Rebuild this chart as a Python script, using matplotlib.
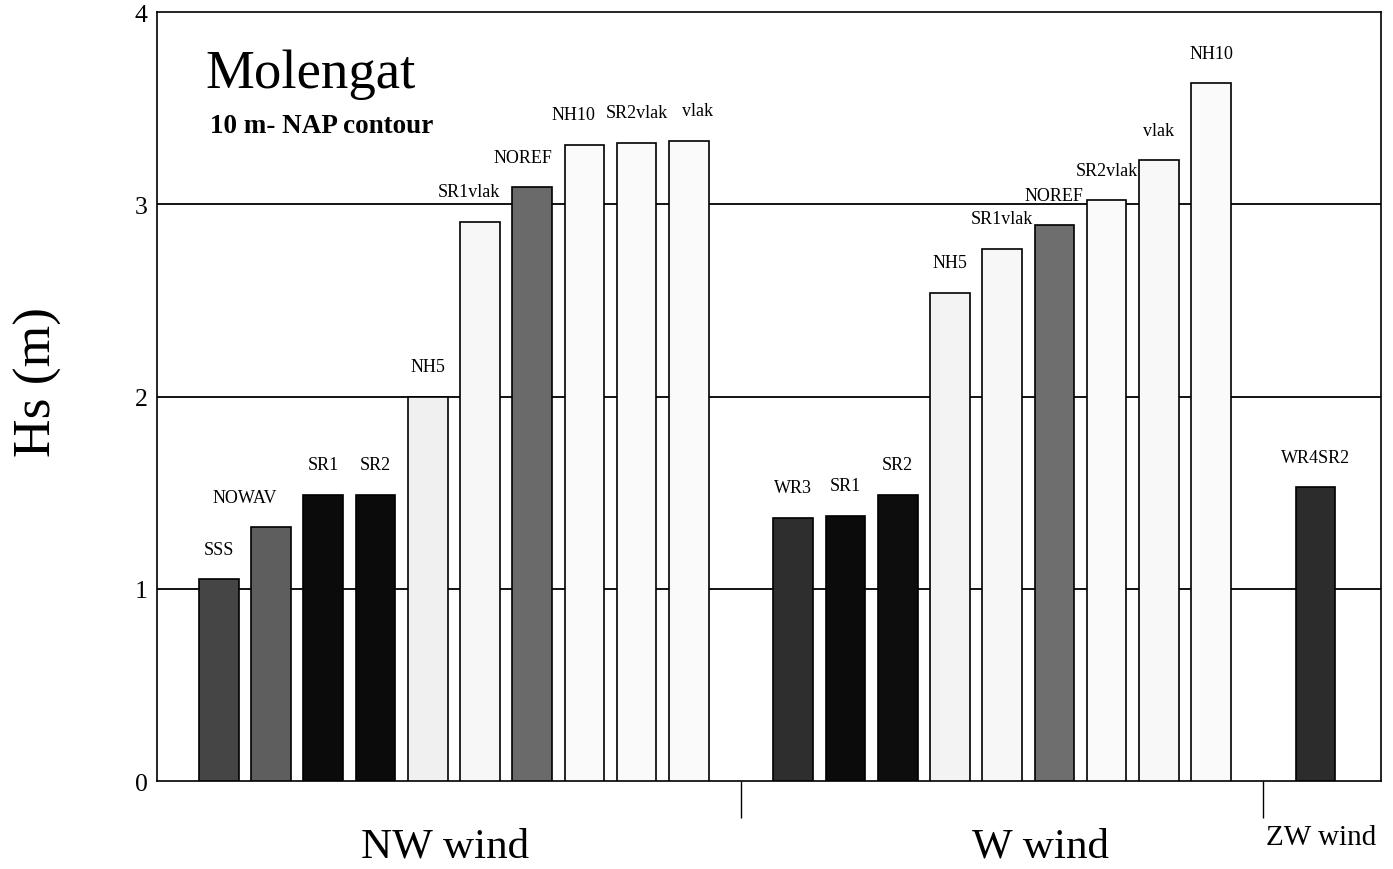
import numpy as np
import matplotlib
matplotlib.use("Agg")
import matplotlib.pyplot as plt
from matplotlib.ticker import FixedLocator

plt.rcParams['font.family'] = ['Liberation Serif', 'DejaVu Serif']

# runs per wind direction (label, Hs in m)
nw_runs = ['SSS', 'NOWAV', 'SR1', 'SR2', 'NH5', 'SR1vlak', 'NOREF', 'NH10', 'SR2vlak', 'vlak']
nw_hs = [1.05, 1.32, 1.49, 1.49, 2.00, 2.91, 3.09, 3.31, 3.32, 3.33]

w_runs = ['WR3', 'SR1', 'SR2', 'NH5', 'SR1vlak', 'NOREF', 'SR2vlak', 'vlak', 'NH10']
w_hs = [1.37, 1.38, 1.49, 2.54, 2.77, 2.89, 3.02, 3.23, 3.63]

zw_runs = ['WR4SR2']
zw_hs = [1.53]

groups = ['NW wind', 'W wind', 'ZW wind']
yticks = [0, 1, 2, 3, 4]

# grey shades of the bars
nw_col = ['#454545', '#5e5e5e', '#0b0b0b', '#0b0b0b', '#f0f0f0', '#f7f7f7',
          '#6a6a6a', '#fafafa', '#fafafa', '#fafafa']
w_col = ['#2e2e2e', '#0b0b0b', '#0d0d0d', '#f3f3f3', '#f7f7f7', '#6e6e6e',
         '#fafafa', '#f8f8f8', '#fafafa']
zw_col = ['#2c2c2c']

# horizontal nudges of some labels (points)
nudge = {('NW', 'NOWAV'): -19, ('NW', 'SR1vlak'): -8, ('NW', 'NOREF'): -7,
         ('NW', 'NH10'): -8, ('NW', 'vlak'): 6}

fig = plt.figure(figsize=(13.93, 8.70), dpi=100)
ax = fig.add_axes([0.1129, 0.1011, 0.8783, 0.8839])

x_nw = np.arange(len(nw_runs))
x_w = np.arange(len(w_runs)) + 11
x_zw = np.arange(len(zw_runs)) + 21

for key, xs, hs, names, cols in [('NW', x_nw, nw_hs, nw_runs, nw_col),
                                 ('W', x_w, w_hs, w_runs, w_col),
                                 ('ZW', x_zw, zw_hs, zw_runs, zw_col)]:
    ax.bar(xs, hs, width=0.76, color=cols, edgecolor='black', linewidth=1.2, zorder=3)
    for x, h, n in zip(xs, hs, names):
        ax.annotate(n, (x, h), xytext=(nudge.get((key, n), 0), 21.5),
                    textcoords='offset points', ha='center', va='center',
                    fontsize=13, zorder=4)

for y in yticks[1:-1]:
    ax.axhline(y, color='black', linewidth=1.3, zorder=1)

ax.set_xlim(-1.18, 22.25)
ax.set_ylim(0, 4)
ax.set_yticks(yticks)
ax.tick_params(axis='y', length=0, pad=7, labelsize=18.5)
ax.set_xticks([])
ax.xaxis.set_minor_locator(FixedLocator([10, 20]))
ax.tick_params(axis='x', which='minor', length=26.5, width=1.0, direction='out')
for s in ax.spines.values():
    s.set_linewidth(1.2)

fig.text(38 / 1393, 1 - 382 / 870, 'Hs (m)', rotation=90, ha='center', va='center',
         fontsize=38.5)
fig.text(205 / 1393, 1 - 88 / 870, 'Molengat', ha='left', va='baseline', fontsize=39.5)
fig.text(210 / 1393, 1 - 133 / 870, '10 m- NAP contour', ha='left', va='baseline',
         fontsize=19.5, fontweight='bold')

fig.text(445.5 / 1393, 1 - 858 / 870, groups[0], ha='center', va='baseline', fontsize=31)
fig.text(1040 / 1393, 1 - 858 / 870, groups[1], ha='center', va='baseline', fontsize=31)
fig.text(1321 / 1393, 1 - 845 / 870, groups[2], ha='center', va='baseline', fontsize=21)

fig.savefig('out.png', dpi=100)
